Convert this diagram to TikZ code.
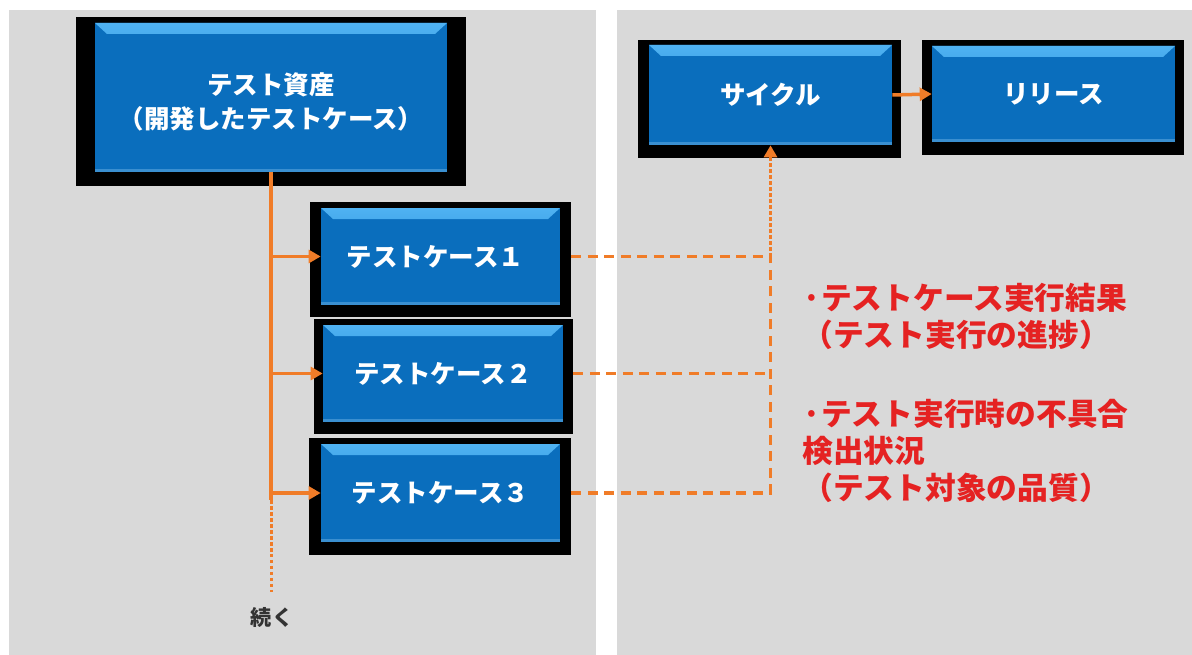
\documentclass[tikz,border=0pt]{standalone}
\usepackage{fontspec}
\setmainfont{Noto Sans CJK JP}
\usetikzlibrary{arrows.meta,fit,calc}
\definecolor{panel}{HTML}{D9D9D9}
\definecolor{btnblue}{HTML}{0A6EBD}
\definecolor{btntop}{HTML}{4FB2F2}
\definecolor{btnmid}{HTML}{0F78C8}
\definecolor{btnedge}{HTML}{3A8FD0}
\definecolor{conn}{HTML}{F07C28}
\definecolor{note}{HTML}{E52222}
\tikzset{
  framebox/.style={fill=black, draw=none, inner sep=0pt},
  btn/.style={fill=btnblue, draw=none, inner sep=0pt,
    path picture={
      \fill[top color=btntop, bottom color=btnmid]
        (path picture bounding box.north west) -- (path picture bounding box.north east)
        -- ([shift={(-12,11)}]path picture bounding box.north east)
        -- ([shift={(12,11)}]path picture bounding box.north west) -- cycle;
      \fill[btnedge]
        ([shift={(0,-3)}]path picture bounding box.south west) rectangle (path picture bounding box.south east);
    }},
  btntext/.style={text=white, font=\bfseries\fontsize{14.5}{19.3}\selectfont, align=center, inner sep=0pt},
  connline/.style={draw=conn, line width=0.07cm},
  conndash/.style={draw=conn, line width=0.07cm, dash pattern=on 0.2cm off 0.13cm},
  conndot/.style={draw=conn, line width=0.06cm, dash pattern=on 0.07cm off 0.05cm},
  tip/.style={-{Triangle[length=0.24cm,width=0.26cm]}},
  notetext/.style={text=note, font=\bfseries\fontsize{17.5}{21}\selectfont, align=left, inner sep=0pt, anchor=west},
}
\begin{document}
\begin{tikzpicture}[x=0.02cm, y=-0.02cm]
  \useasboundingbox (0,0) rectangle (1192,655);
  \fill[white] (0,0) rectangle (1192,655);
  \fill[panel] (9,10) rectangle (596,655);
  \fill[panel] (617,10) rectangle (1192,655);

  % frames
  \node[framebox, fit={(76,17) (466,186)}] (assetf) {};
  \node[framebox, fit={(310,202) (571,317)}] (tc1f) {};
  \node[framebox, fit={(314,319) (573,434)}] (tc2f) {};
  \node[framebox, fit={(309,438) (571,555)}] (tc3f) {};
  \node[framebox, fit={(638,40) (901,158)}] (cyclef) {};
  \node[framebox, fit={(922,40) (1184,155)}] (releasef) {};

  % buttons
  \node[btn, fit={(95,23) (447,172)}, label={[btntext, yshift=-0.09cm]center:テスト資産\\（開発したテストケース）}] (asset) {};
  \node[btn, fit={(321,208) (560,305)}, label={[btntext, xshift=-0.1cm]center:テストケース１}] (tc1) {};
  \node[btn, fit={(323,325) (563,422)}, label={[btntext]center:テストケース２}] (tc2) {};
  \node[btn, fit={(321,444) (560,542)}, label={[btntext]center:テストケース３}] (tc3) {};
  \node[btn, fit={(649,45) (892,145)}, label={[btntext]center:サイクル}] (cycle) {};
  \node[btn, fit={(932,46) (1175,142)}, label={[btntext]center:リリース}] (release) {};

  % notes
  \node[notetext] (n1) at (802,316) {·テストケース実行結果\\（テスト実行の進捗）};
  \node[notetext] (n2) at (802,451) {·テスト実行時の不具合\\検出状況\\（テスト対象の品質）};
  \node[text=black!80, font=\bfseries\fontsize{12}{14}\selectfont, inner sep=0pt] (cont) at (272,617) {続く};

  % trunk
  \coordinate (trunkEnd) at (271,500);
  \coordinate (contEnd) at (271,592);
  \draw[connline] (asset.south) -- (asset.south |- trunkEnd);
  \draw[conndot] (asset.south |- trunkEnd) -- (asset.south |- contEnd);
  \draw[connline, tip] (asset.south |- tc1.west) -- (tc1.west);
  \draw[connline, tip] (asset.south |- tc2.west) -- (tc2.west);
  \draw[connline, tip] (asset.south |- tc3.west) -- (tc3.west);

  % results to cycle
  \draw[conndash] (tc1.east -| tc1f.east) -- (cycle.south |- tc1.east);
  \draw[conndash] (tc2.east -| tc2f.east) -- (cycle.south |- tc2.east);
  \draw[conndash] (tc3.east -| tc3f.east) -- (cycle.south |- tc3.east) -- (cycle.south |- tc1.east);
  \draw[conndot, tip] (cycle.south |- tc1.east) -- (cycle.south);

  % cycle to release
  \draw[connline, tip] (cycle.east) -- (release.west);
\end{tikzpicture}
\end{document}
